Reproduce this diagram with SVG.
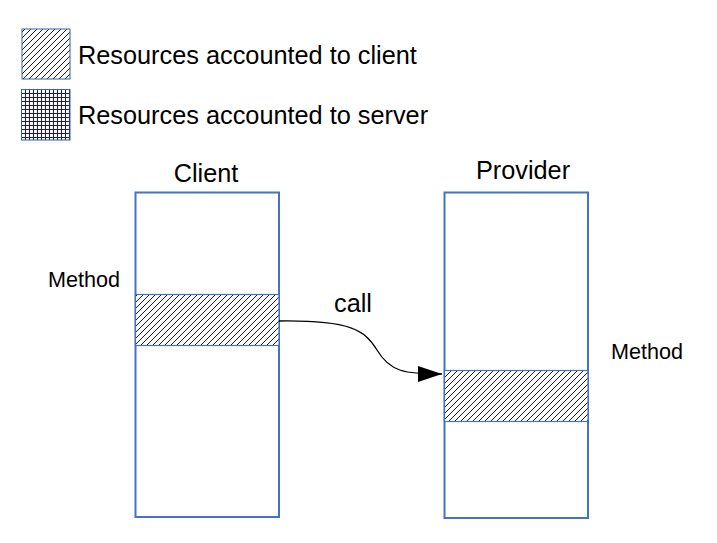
<svg xmlns="http://www.w3.org/2000/svg" width="717" height="543" viewBox="0 0 717 543">
<style>
text { font-family: "Liberation Sans", Arial, sans-serif; fill: #000; }
.big { font-size: 25.3px; }
.small { font-size: 21.6px; }
.box { fill: #fff; stroke: #4472c4; stroke-width: 2; }
.band { fill: url(#hatch); stroke: #4472c4; stroke-width: 1.2; }
.grid { stroke: #1010b8; stroke-width: 1.3; fill: none; shape-rendering: crispEdges; }
</style>
<defs>
<pattern id="hatch" patternUnits="userSpaceOnUse" width="6" height="6">
<rect width="6" height="6" fill="#fff"/>
<path d="M0,6 L6,0 M-1,1 L1,-1 M5,7 L7,5" stroke="#000" stroke-width="0.9"/>
</pattern>
<marker id="arrow" markerWidth="24" markerHeight="16" refX="24" refY="8" orient="auto" markerUnits="userSpaceOnUse">
<path d="M0,0 L24,8 L0,16 Z" fill="#000"/>
</marker>
</defs>

<g id="legend-client">
<rect x="22" y="29" width="48" height="50" fill="url(#hatch)" stroke="#3465a4" stroke-width="1"/>
<text class="big" x="78" y="64">Resources accounted to client</text>
</g>
<g id="legend-server">
<rect x="21.5" y="89.5" width="48.5" height="50.5" fill="#fff"/>
<path class="grid" d="M21.5,89.5V140 M25.5,89.5V140 M29.5,89.5V140 M33.5,89.5V140 M37.5,89.5V140 M41.5,89.5V140 M45.5,89.5V140 M49.5,89.5V140 M53.5,89.5V140 M57.5,89.5V140 M61.5,89.5V140 M65.5,89.5V140 M69.5,89.5V140
M21.5,89.5H70 M21.5,93.5H70 M21.5,97.5H70 M21.5,101.5H70 M21.5,105.5H70 M21.5,109.5H70 M21.5,113.5H70 M21.5,117.5H70 M21.5,121.5H70 M21.5,125.5H70 M21.5,129.5H70 M21.5,133.5H70 M21.5,137.5H70"/>
<rect x="21.5" y="89.5" width="48.5" height="50.5" fill="none" stroke="#3465a4" stroke-width="1"/>
<text class="big" x="78" y="124">Resources accounted to server</text>
</g>

<g id="client">
<text class="big" x="206" y="182" text-anchor="middle">Client</text>
<rect class="box" x="135.5" y="192.5" width="143.5" height="324.5"/>
<rect class="band" x="135.5" y="294.5" width="143.5" height="51"/>
<text class="small" x="48" y="287">Method</text>
</g>

<g id="provider">
<text class="big" x="523" y="179" text-anchor="middle">Provider</text>
<rect class="box" x="444.5" y="192.5" width="143.5" height="325.5"/>
<rect class="band" x="444.5" y="370.5" width="143.5" height="51"/>
<text class="small" x="611" y="359">Method</text>
</g>

<g id="connectors">
<path d="M279,321 C350,320 365,330 377,350 C390,372 405,374 442,374" fill="none" stroke="#000" stroke-width="1.3" marker-end="url(#arrow)"/>
<text class="big" x="334" y="312">call</text>
</g>
</svg>
